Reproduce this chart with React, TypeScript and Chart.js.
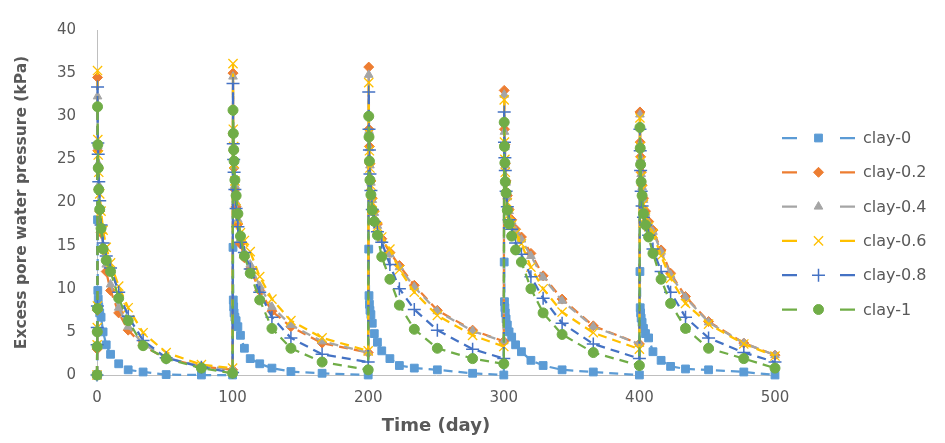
import React, { useEffect, useRef } from 'react';
import { Chart, registerables } from 'chart.js';
import { drawPoint } from 'chart.js/helpers';

Chart.register(...registerables);

// Time (day) of each sample — five 100-day loading cycles
const TIME_DAYS = [
  0, 0.1, 0.2, 0.3, 0.4, 0.6, 0.9, 1.3, 2, 3, 4.5, 6.8, 10, 16, 23, 34, 51, 77,
  100, 100.3, 100.5, 100.8, 101.1, 101.7, 102.6, 103.9, 105.8, 108.7, 113, 120, 129, 143, 166,
  200, 200.4, 200.6, 200.9, 201.3, 202, 203, 204.5, 206.8, 210, 216, 223, 234, 251, 277,
  300, 300.3, 300.5, 300.8, 301.1, 301.7, 302.6, 303.9, 305.8, 308.7, 313, 320, 329, 343, 366,
  400, 400.4, 400.6, 400.9, 401.3, 402, 403, 404.5, 406.8, 410, 416, 423, 434, 451, 477,
  500,
];

const CLAY_0 = [
  0, 0, 0, 0, 18, 9.8, 8.8, 7.9, 7.2, 6.7, 5.0, 3.5, 2.4, 1.3, 0.6, 0.35, 0.05, 0,
  0, 14.8, 8.7, 7.9, 7.2, 6.7, 6.3, 5.6, 4.6, 3.1, 1.9, 1.3, 0.8, 0.4, 0.2,
  0, 14.6, 9.2, 8.2, 7.5, 7.0, 6.0, 4.8, 3.8, 2.8, 1.9, 1.1, 0.8, 0.6, 0.2,
  0, 13.1, 8.5, 7.8, 7.2, 6.5, 5.8, 5.0, 4.4, 3.5, 2.7, 1.7, 1.1, 0.6, 0.35,
  0, 12.0, 7.8, 7.2, 6.6, 6.1, 5.4, 4.8, 4.3, 2.7, 1.7, 1.0, 0.7, 0.6, 0.35,
  0,
];

const CLAY_02 = [
  0, 3, 5, 7.5, 34.5, 26, 24, 21.5, 19, 16.5, 14.5, 12, 9.8, 7.2, 5.2, 3.4, 1.9, 1.0,
  0.6, 35.0, 28, 26, 24, 21.5, 19.5, 17.5, 15.2, 13.6, 12.3, 9.8, 7.4, 5.6, 3.7,
  2.6, 35.7, 28.5, 26.5, 24.5, 22.5, 20.5, 19, 17.5, 15.8, 14.2, 12.7, 10.4, 7.5, 5.2,
  3.9, 33, 28.5, 26.7, 24.5, 22.5, 20.8, 19.2, 18.0, 16.9, 16.0, 14.1, 11.5, 8.8, 5.7,
  3.6, 30.5, 27, 25.3, 23.5, 22, 20.5, 19, 17.8, 16.8, 14.5, 11.8, 9.1, 6.2, 3.7,
  2.3,
];

const CLAY_04 = [
  0, 3.3, 5.2, 7.7, 32.3, 26.5, 24.5, 22, 19.5, 17, 15, 12.8, 10.5, 7.8, 5.6, 3.6, 2.0, 1.0,
  0.7, 34.6, 28, 26.2, 24.2, 22, 20, 18, 15.8, 14.2, 12.8, 10.3, 7.9, 5.8, 3.9,
  2.6, 34.8, 28.3, 26.3, 24.3, 22.3, 20.3, 18.8, 17.3, 15.7, 14.0, 12.5, 10.2, 7.4, 5.1,
  3.9, 32.5, 28.2, 26.4, 24.3, 22.3, 20.6, 19.0, 17.8, 16.7, 15.7, 13.8, 11.3, 8.6, 5.6,
  3.6, 30.2, 26.8, 25.1, 23.3, 21.8, 20.3, 18.8, 17.6, 16.6, 14.3, 11.6, 9.0, 6.1, 3.7,
  2.3,
];

const CLAY_06 = [
  0, 3.5, 5.5, 8, 35.3, 27.3, 25.5, 23.5, 21, 19, 16.8, 14.8, 13.0, 10.3, 7.8, 4.9, 2.6, 1.2,
  0.8, 36.1, 28.5, 26.5, 24.5, 22.5, 20.2, 18, 16.5, 15.6, 14.3, 11.4, 8.8, 6.3, 4.3,
  2.8, 33.9, 28, 26, 24, 22, 20, 18.5, 17.2, 16.0, 14.6, 12.2, 9.6, 6.9, 4.6,
  3.3, 31.9, 27, 25, 23.5, 21.8, 20, 18.6, 17.4, 16.4, 15.2, 12.5, 10.0, 7.3, 4.9,
  3.0, 29.8, 26.5, 24.8, 23, 21.5, 19.8, 18.3, 17.2, 16.4, 13.8, 11.2, 8.3, 5.9, 3.6,
  2.2,
];

const CLAY_08 = [
  0, 3.5, 5.5, 8, 33.4, 26.9, 25.6, 22.4, 20.2, 17.4, 15.3, 13.8, 12.4, 9.6, 6.8, 4.0, 2.0, 0.9,
  0.3, 33.8, 26.8, 25, 23.5, 21.5, 19.3, 17.2, 15.4, 14.2, 12.3, 9.6, 6.7, 4.3, 2.4,
  1.5, 32.8, 28.5, 26.1, 23.3, 21.4, 19.2, 17.8, 16.6, 15.4, 12.8, 10.0, 7.6, 5.2, 3.0,
  1.9, 30.5, 27, 25.2, 23.7, 21.3, 19.5, 18, 16.9, 15.3, 14.0, 11.4, 8.9, 6.0, 3.6,
  1.9, 28.5, 26, 23.7, 21.3, 19.6, 18.3, 17.4, 16.2, 14.6, 12.0, 9.6, 6.7, 4.3, 2.6,
  1.5,
];

const CLAY_1 = [
  0, 3.3, 5, 7.7, 31.1, 26.7, 24, 21.5, 19.2, 17, 14.6, 13.3, 12, 8.9, 6.3, 3.4, 1.9, 0.8,
  0.2, 30.7, 28, 26.1, 24.8, 22.6, 20.8, 18.7, 16.1, 13.8, 11.8, 8.7, 5.4, 3.1, 1.5,
  0.6, 30, 27.6, 24.8, 22.6, 20.9, 19.1, 17.8, 16.2, 13.7, 11.1, 8.1, 5.3, 3.1, 1.9,
  1.3, 29.3, 26.5, 24.6, 22.4, 21.1, 19.1, 17.5, 16.1, 14.5, 13.1, 10.0, 7.2, 4.7, 2.6,
  1.1, 28.7, 26.3, 24.4, 22.4, 20.8, 18.7, 17.4, 16.0, 14.1, 11.1, 8.3, 5.4, 3.1, 1.9,
  0.8,
];

const SERIES_NAMES = ['clay-0', 'clay-0.2', 'clay-0.4', 'clay-0.6', 'clay-0.8', 'clay-1'];
const SERIES_VALUES = [CLAY_0, CLAY_02, CLAY_04, CLAY_06, CLAY_08, CLAY_1];
const X_TICKS = [0, 100, 200, 300, 400, 500];
const Y_TICKS = [0, 5, 10, 15, 20, 25, 30, 35, 40];
const X_TITLE = 'Time (day)';
const Y_TITLE = 'Excess pore water pressure (kPa)';

const COLORS = ['#5B9BD5', '#ED7D31', '#A5A5A5', '#FFC000', '#4472C4', '#70AD47'];
const MARKERS = ['rect', 'rectRot', 'triangle', 'crossRot', 'cross', 'circle'];
const RADII = [5.5, 5, 5, 6.5, 6.5, 5];
const MARKER_BORDER = [1, 1, 1, 1.3, 1.5, 1];

const TEXT_GRAY = '#595959';
const FONT = '"DejaVu Sans", sans-serif';

const legendPlugin = {
  id: 'excelLegend',
  afterDraw(chart: any) {
    const ctx = chart.ctx;
    ctx.save();
    chart.data.datasets.forEach((ds: any, i: number) => {
      const y = 138 + i * 34.3;
      ctx.setLineDash([]);
      ctx.strokeStyle = ds.borderColor;
      ctx.lineWidth = 2.25;
      ctx.beginPath();
      ctx.moveTo(782, y);
      ctx.lineTo(797, y);
      ctx.moveTo(840, y);
      ctx.lineTo(855, y);
      ctx.stroke();
      ctx.fillStyle = ds.pointBackgroundColor;
      ctx.strokeStyle = ds.pointBorderColor;
      ctx.lineWidth = ds.pointBorderWidth;
      drawPoint(ctx, {
        pointStyle: ds.pointStyle,
        radius: ds.pointRadius,
        rotation: 0,
        borderWidth: ds.pointBorderWidth,
      }, 818.5, y);
      ctx.fillStyle = TEXT_GRAY;
      ctx.font = `16px ${FONT}`;
      ctx.textBaseline = 'middle';
      ctx.textAlign = 'left';
      ctx.fillText(ds.label, 863, y + 1);
    });
    ctx.restore();
  },
};

export default function App() {
  const canvasRef = useRef<HTMLCanvasElement | null>(null);

  useEffect(() => {
    if (!canvasRef.current) return;
    const datasets = SERIES_NAMES.map((name, s) => ({
      label: name,
      data: TIME_DAYS.map((t, i) => ({ x: t, y: SERIES_VALUES[s][i] })),
      showLine: true,
      borderColor: COLORS[s],
      backgroundColor: COLORS[s],
      borderWidth: 2.25,
      borderDash: [9, 6],
      tension: 0,
      pointStyle: MARKERS[s],
      pointRadius: RADII[s],
      pointBackgroundColor: COLORS[s],
      pointBorderColor: COLORS[s],
      pointBorderWidth: MARKER_BORDER[s],
      order: SERIES_NAMES.length - 1 - s,
      clip: false as any,
    }));

    const chart = new Chart(canvasRef.current, {
      type: 'scatter',
      data: { datasets },
      plugins: [legendPlugin],
      options: {
        responsive: true,
        maintainAspectRatio: false,
        animation: false,
        layout: { padding: { top: 15, right: 170, left: 0, bottom: 0 } },
        plugins: {
          legend: { display: false },
          tooltip: { enabled: false },
        },
        scales: {
          x: {
            type: 'linear',
            min: 0,
            max: 500,
            afterBuildTicks: (axis: any) => {
              axis.ticks = X_TICKS.map((v) => ({ value: v }));
            },
            afterFit: (axis: any) => {
              axis.height = 68;
            },
            grid: { display: false, drawTicks: false },
            border: { display: true, color: '#BFBFBF', width: 1 },
            ticks: {
              color: TEXT_GRAY,
              font: { family: FONT, size: 15 },
              padding: 14,
              maxRotation: 0,
              autoSkip: false,
            },
            title: {
              display: true,
              text: X_TITLE,
              color: TEXT_GRAY,
              font: { family: FONT, size: 18, weight: 'bold' },
              padding: { top: 0, bottom: 6 },
            },
          },
          y: {
            type: 'linear',
            min: 0,
            max: 40,
            afterBuildTicks: (axis: any) => {
              axis.ticks = Y_TICKS.map((v) => ({ value: v }));
            },
            afterFit: (axis: any) => {
              axis.width = 97;
            },
            grid: { display: false, drawTicks: false },
            border: { display: true, color: '#BFBFBF', width: 1 },
            ticks: {
              color: TEXT_GRAY,
              font: { family: FONT, size: 15 },
              padding: 21,
              autoSkip: false,
            },
            title: {
              display: true,
              text: Y_TITLE,
              color: TEXT_GRAY,
              font: { family: FONT, size: 15.5, weight: 'bold' },
              padding: { top: 13, bottom: 0 },
            },
          },
        },
      } as any,
    });
    return () => chart.destroy();
  }, []);

  return (
    <div style={{ position: 'fixed', left: 0, top: 0, width: 945, height: 443, background: '#ffffff' }}>
      <canvas ref={canvasRef} />
    </div>
  );
}
